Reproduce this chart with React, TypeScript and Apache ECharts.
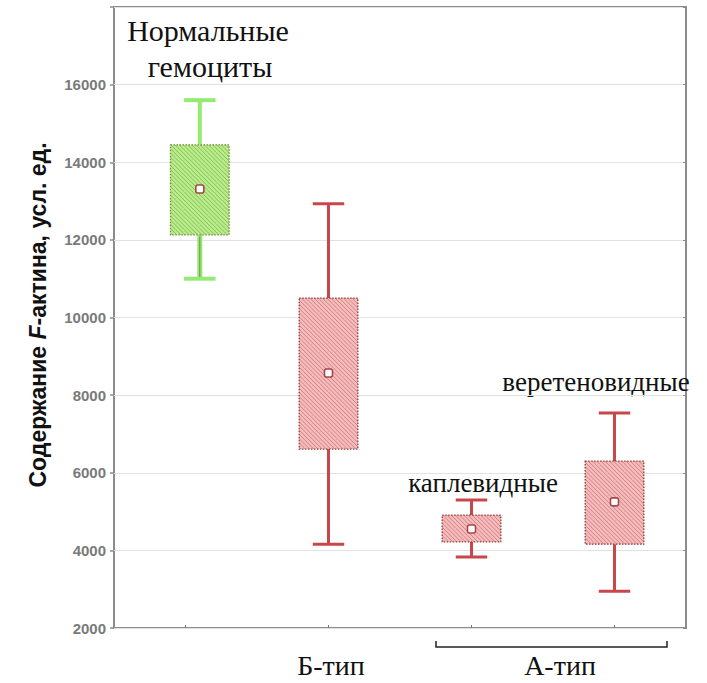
import React, { useEffect, useRef } from "react";
import * as echarts from "echarts";

// Содержание F-актина по группам клеток (усл. ед.)
const groupNames = ["Нормальные гемоциты", "Б-тип", "каплевидные", "веретеновидные"];
const whiskerLow = [11000, 4160, 3830, 2950];
const boxLow = [12130, 6610, 4220, 4160];
const meanValues = [13310, 8570, 4550, 5250];
const boxHigh = [14450, 10500, 4910, 6300];
const whiskerHigh = [15600, 12930, 5300, 7540];
const yTicks = [2000, 4000, 6000, 8000, 10000, 12000, 14000, 16000];

const BOX_WIDTH = 0.41;
const CAP_WIDTH = 0.22;
const NORMAL_SHIFT = 0.1;

const palette = {
  normal: { line: "#94ea72", fill: "#b2f088", hatch: "#9aa25c", border: "#7d8444", inner: "#7b8348" },
  altered: { line: "#c8474b", fill: "#f4bcbc", hatch: "#d07070", border: "#8e3b3b", inner: "" },
};

function hatchLines(x0: number, y0: number, w: number, h: number, step: number, color: string) {
  const out: any[] = [];
  const cMin = x0 - (y0 + h);
  const cMax = x0 + w - y0;
  for (let c = cMin + step / 2; c < cMax; c += step) {
    const xa = Math.max(x0, y0 + c);
    const xb = Math.min(x0 + w, y0 + h + c);
    if (xb <= xa) continue;
    out.push({
      type: "line",
      shape: { x1: xa, y1: xa - c, x2: xb, y2: xb - c },
      style: { stroke: color, lineWidth: 0.8 },
      silent: true,
    });
  }
  return out;
}

const centered = { align: "center", verticalAlign: "middle", textAlign: "center", textVerticalAlign: "middle" };

export default function App() {
  const ref = useRef<HTMLDivElement>(null);

  useEffect(() => {
    if (!ref.current) return;
    const chart = echarts.init(ref.current, null, { renderer: "svg" });

    const data = groupNames.map((name, i) => ({
      name,
      value: [i + 1, whiskerLow[i], boxLow[i], meanValues[i], boxHigh[i], whiskerHigh[i]],
    }));

    const renderItem = (params: any, api: any) => {
      const idx = params.dataIndex;
      const c = idx === 0 ? palette.normal : palette.altered;
      const xv = api.value(0) + (idx === 0 ? NORMAL_SHIFT : 0);
      const pLow = api.coord([xv, api.value(1)]);
      const pQ1 = api.coord([xv, api.value(2)]);
      const pMean = api.coord([xv, api.value(3)]);
      const pQ3 = api.coord([xv, api.value(4)]);
      const pHigh = api.coord([xv, api.value(5)]);
      const cx = pMean[0];
      const bw = api.size([BOX_WIDTH, 0])[0];
      const cw = api.size([CAP_WIDTH, 0])[0];
      const lw = idx === 0 ? 4 : 3;

      const children: any[] = [];
      // whiskers and caps
      children.push(
        { type: "line", shape: { x1: cx, y1: pHigh[1], x2: cx, y2: pQ3[1] }, style: { stroke: c.line, lineWidth: lw } },
        { type: "line", shape: { x1: cx, y1: pQ1[1], x2: cx, y2: pLow[1] }, style: { stroke: c.line, lineWidth: idx === 0 ? 5 : lw } },
        { type: "line", shape: { x1: cx - cw / 2, y1: pHigh[1], x2: cx + cw / 2, y2: pHigh[1] }, style: { stroke: c.line, lineWidth: lw } },
        { type: "line", shape: { x1: cx - cw / 2, y1: pLow[1], x2: cx + cw / 2, y2: pLow[1] }, style: { stroke: c.line, lineWidth: lw } }
      );
      if (c.inner) {
        children.push({
          type: "line",
          shape: { x1: cx, y1: pQ1[1] + 2, x2: cx, y2: pLow[1] - 2 },
          style: { stroke: c.inner, lineWidth: 1 },
        });
      }
      // hatched box
      const x0 = cx - bw / 2;
      const y0 = pQ3[1];
      const h = pQ1[1] - pQ3[1];
      children.push({ type: "rect", shape: { x: x0, y: y0, width: bw, height: h }, style: { fill: c.fill } });
      children.push(...hatchLines(x0, y0, bw, h, 4.2, c.hatch));
      children.push({
        type: "rect",
        shape: { x: x0, y: y0, width: bw, height: h },
        style: { fill: "none", stroke: c.border, lineWidth: 1.3, lineDash: [1.5, 1.5] },
      });
      // mean marker
      children.push({
        type: "rect",
        shape: { x: cx - 4, y: pMean[1] - 4, width: 8, height: 8, r: 2 },
        style: { fill: "#ffffff", stroke: "#a8474a", lineWidth: 1.6 },
      });
      return { type: "group", children };
    };

    chart.setOption({
      animation: false,
      backgroundColor: "#ffffff",
      grid: {
        left: 114,
        top: 7,
        right: 21,
        bottom: 55,
        show: true,
        borderColor: "#8c8c8c",
        borderWidth: 2,
        backgroundColor: "#ffffff",
      },
      xAxis: {
        type: "value",
        min: 0.5,
        max: 4.5,
        axisLine: { show: false },
        axisTick: {
          show: true,
          inside: true,
          length: 3,
          customValues: [1, 2, 3, 4],
          lineStyle: { color: "#777" },
        },
        axisLabel: { show: false },
        splitLine: { show: false },
      },
      yAxis: [
        {
          type: "value",
          min: 2000,
          max: 18000,
          interval: 2000,
          axisLine: { show: false },
          axisTick: { show: true, length: 4, lineStyle: { color: "#8c8c8c", width: 1.5 } },
          axisLabel: {
            customValues: yTicks,
            formatter: (v: number) => String(v),
            color: "#7a7a7a",
            fontWeight: "bold",
            fontSize: 15,
            fontFamily: "Liberation Sans",
            margin: 8,
          },
          splitLine: { show: true, lineStyle: { color: "#e2e2e2", width: 1 } },
        },
        {
          type: "value",
          position: "right",
          min: 2000,
          max: 18000,
          interval: 2000,
          axisLine: { show: false },
          axisTick: { show: true, inside: true, length: 3, lineStyle: { color: "#8c8c8c" } },
          axisLabel: { show: false },
          splitLine: { show: false },
        },
      ],
      series: [
        {
          type: "custom",
          renderItem,
          data,
          encode: { x: 0, y: [1, 2, 3, 4, 5] },
          clip: false,
        },
      ],
      graphic: [
        {
          type: "text",
          x: 38,
          y: 315,
          rotation: Math.PI / 2,
          style: {
            text: "{a|Содержание }{i|F}{a|-актина, усл. ед.}",
            ...centered,
            rich: {
              a: { fontFamily: "Liberation Sans", fontWeight: "bold", fontSize: 23, fill: "#111" },
              i: { fontFamily: "Liberation Sans", fontWeight: "bold", fontStyle: "italic", fontSize: 23, fill: "#111" },
            },
          },
        },
        {
          type: "text",
          x: 208,
          y: 30,
          style: { text: "Нормальные", font: "30px 'Liberation Serif'", fill: "#111", ...centered },
        },
        {
          type: "text",
          x: 210,
          y: 66,
          style: { text: "гемоциты", font: "30px 'Liberation Serif'", fill: "#111", ...centered },
        },
        {
          type: "text",
          x: 596,
          y: 382,
          style: { text: "веретеновидные", font: "27px 'Liberation Serif'", fill: "#111", ...centered },
        },
        {
          type: "text",
          x: 483,
          y: 483,
          style: { text: "каплевидные", font: "27px 'Liberation Serif'", fill: "#111", ...centered },
        },
        {
          type: "text",
          x: 331,
          y: 665,
          style: { text: "Б-тип", font: "28px 'Liberation Serif'", fill: "#111", ...centered },
        },
        {
          type: "text",
          x: 560,
          y: 665,
          style: { text: "А-тип", font: "28px 'Liberation Serif'", fill: "#111", ...centered },
        },
        {
          type: "polyline",
          shape: { points: [[436, 641], [436, 647], [667, 647], [667, 641]] },
          style: { stroke: "#222", lineWidth: 1.5, fill: "none" },
        },
      ],
    });

    return () => chart.dispose();
  }, []);

  return (
    <div
      ref={ref}
      style={{ position: "fixed", left: 0, top: 0, width: 707, height: 683, background: "#fff" }}
    />
  );
}
